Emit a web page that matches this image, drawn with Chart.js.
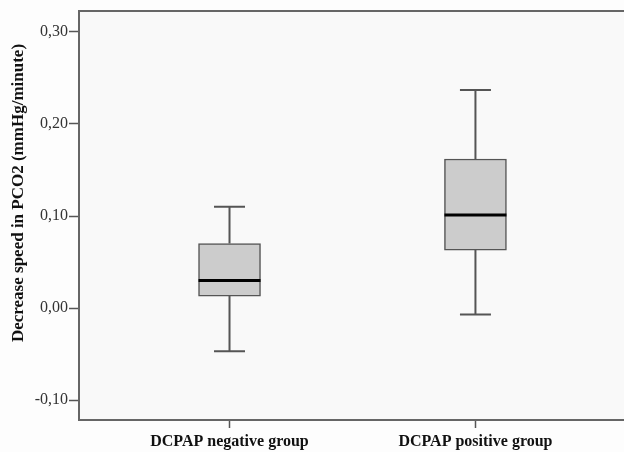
<!DOCTYPE html>
<html>
<head>
<meta charset="utf-8">
<script src="https://cdn.jsdelivr.net/npm/chart.js@4/dist/chart.umd.min.js"></script>
<style>
  html, body { margin: 0; padding: 0; background: #fdfdfd; }
  #wrap { width: 624px; height: 452px; }
</style>
</head>
<body>
<div id="wrap"><canvas id="myChart"></canvas></div>
<script>
const categories = ['DCPAP negative group', 'DCPAP positive group'];
const mins = [-0.047, -0.007];
const q1s = [0.013, 0.063];
const medians = [0.030, 0.101];
const q3s = [0.070, 0.162];
const maxs = [0.110, 0.237];
const yTicks = [-0.10, 0.00, 0.10, 0.20, 0.30];
const yTitle = 'Decrease speed in PCO2 (mmHg/minute)';

const ctx = document.getElementById('myChart');

// whiskers, caps and median lines drawn on top of the floating bars
const boxExtras = {
  id: 'boxExtras',
  beforeDraw(chart) {
    const c = chart.ctx;
    const a = chart.chartArea;
    c.save();
    c.fillStyle = '#fdfdfd';
    c.fillRect(0, 0, chart.width, chart.height);
    c.fillStyle = '#f9f9f9';
    c.fillRect(a.left, a.top, a.right - a.left, a.bottom - a.top);
    c.restore();
  },
  afterDatasetsDraw(chart) {
    const c = chart.ctx;
    const x = chart.scales.x;
    const y = chart.scales.y;
    const a = chart.chartArea;
    c.save();
    // top frame line
    c.strokeStyle = '#666';
    c.lineWidth = 2;
    c.beginPath();
    c.moveTo(a.left, a.top);
    c.lineTo(a.right, a.top);
    c.stroke();

    categories.forEach((cat, i) => {
      const xc = x.getPixelForValue(i + 1);
      const cap = 15.5;
      c.strokeStyle = '#555';
      c.lineWidth = 2;
      c.beginPath();
      c.moveTo(xc, y.getPixelForValue(q3s[i]));
      c.lineTo(xc, y.getPixelForValue(maxs[i]));
      c.moveTo(xc, y.getPixelForValue(q1s[i]));
      c.lineTo(xc, y.getPixelForValue(mins[i]));
      c.moveTo(xc - cap, y.getPixelForValue(maxs[i]));
      c.lineTo(xc + cap, y.getPixelForValue(maxs[i]));
      c.moveTo(xc - cap, y.getPixelForValue(mins[i]));
      c.lineTo(xc + cap, y.getPixelForValue(mins[i]));
      c.stroke();
      // median
      c.strokeStyle = '#000';
      c.lineWidth = 3;
      c.beginPath();
      c.moveTo(xc - 31, y.getPixelForValue(medians[i]));
      c.lineTo(xc + 31, y.getPixelForValue(medians[i]));
      c.stroke();
    });

    // y axis title, sits a bit above the middle like the original
    c.translate(19, 193);
    c.rotate(-Math.PI / 2);
    c.fillStyle = '#111';
    c.font = 'bold 17px "Liberation Serif"';
    c.textAlign = 'center';
    c.textBaseline = 'middle';
    c.fillText(yTitle, 0, 0);
    c.restore();
  }
};

new Chart(ctx, {
  type: 'bar',
  data: {
    datasets: [{
      data: categories.map((cat, i) => ({ x: i + 1, y: [q1s[i], q3s[i]] })),
      backgroundColor: '#cccccc',
      borderColor: '#555',
      borderWidth: 1.5,
      borderSkipped: false,
      barThickness: 62
    }]
  },
  options: {
    responsive: true,
    maintainAspectRatio: false,
    animation: false,
    layout: { padding: { top: 11, left: 0, right: 0, bottom: 0 } },
    plugins: {
      legend: { display: false },
      tooltip: { enabled: false }
    },
    scales: {
      x: {
        type: 'linear',
        min: 0.388,
        max: 2.604,
        offset: false,
        afterBuildTicks: (axis) => {
          axis.ticks = categories.map((cat, i) => ({ value: i + 1 }));
        },
        afterFit: (axis) => { axis.height = 32; },
        grid: {
          offset: false,
          drawOnChartArea: false,
          tickLength: 8,
          tickWidth: 1.5,
          color: '#555'
        },
        border: { color: '#666', width: 2 },
        ticks: {
          autoSkip: false,
          maxRotation: 0,
          padding: 4,
          color: '#111',
          font: { family: 'Liberation Serif', size: 16, weight: 'bold' },
          callback: (v) => categories[Math.round(v) - 1]
        }
      },
      y: {
        min: -0.1217,
        max: 0.3228,
        afterBuildTicks: (axis) => {
          axis.ticks = yTicks.map(v => ({ value: v }));
        },
        afterFit: (axis) => { axis.width = 79; },
        grid: {
          drawOnChartArea: false,
          tickLength: 10,
          tickWidth: 1.5,
          color: '#555'
        },
        border: { color: '#666', width: 2 },
        ticks: {
          padding: 1,
          color: '#333',
          font: { family: 'Liberation Serif', size: 16 },
          callback: (v) => v.toFixed(2).replace('.', ',')
        }
      }
    }
  },
  plugins: [boxExtras]
});
</script>
</body>
</html>
